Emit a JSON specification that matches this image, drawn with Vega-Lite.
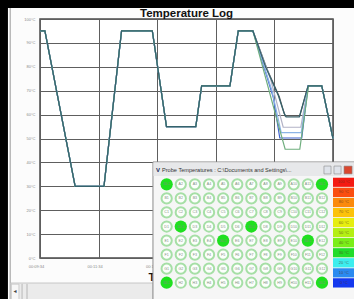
{
  "$schema": "https://vega.github.io/schema/vega-lite/v6.json",
  "width": 293,
  "height": 239,
  "autosize": {"type": "none"},
  "padding": {"left": 40, "top": 19, "right": 21, "bottom": 41},
  "background": "#fcfcfc",
  "title": {"text": "Temperature Log", "frame": "group", "anchor": "middle", "font": "Liberation Sans", "fontSize": 11.5, "fontWeight": "bold", "color": "#111111", "offset": 0, "baseline": "alphabetic", "dy": 28, "zindex": 2},
  "config": {
    "view": {"stroke": "#4a4a4a", "strokeWidth": 1.5, "fill": "white"},
    "axis": {"domain": false, "ticks": false, "labelFont": "Liberation Sans", "labelFontSize": 4, "labelColor": "#8a8a8a", "gridColor": "#5e5e5e", "gridWidth": 1, "gridOpacity": 1}
  },
  "datasets": {
    "temps": [
      {"probe": "A1", "t": 0, "v": 95}, {"probe": "A1", "t": 10, "v": 95}, {"probe": "A1", "t": 72, "v": 30}, {"probe": "A1", "t": 131, "v": 30}, {"probe": "A1", "t": 167, "v": 95}, {"probe": "A1", "t": 230, "v": 95}, {"probe": "A1", "t": 259, "v": 55}, {"probe": "A1", "t": 319, "v": 55}, {"probe": "A1", "t": 331, "v": 72}, {"probe": "A1", "t": 389, "v": 72}, {"probe": "A1", "t": 406, "v": 95}, {"probe": "A1", "t": 436, "v": 95},
      {"probe": "A1", "t": 465, "v": 79}, {"probe": "A1", "t": 490, "v": 67.5}, {"probe": "A1", "t": 498, "v": 62}, {"probe": "A1", "t": 502, "v": 59.5}, {"probe": "A1", "t": 532, "v": 59.5}, {"probe": "A1", "t": 549, "v": 72}, {"probe": "A1", "t": 577, "v": 72}, {"probe": "A1", "t": 600, "v": 50},
      {"probe": "A12", "t": 0, "v": 95}, {"probe": "A12", "t": 10, "v": 95}, {"probe": "A12", "t": 72, "v": 30}, {"probe": "A12", "t": 131, "v": 30}, {"probe": "A12", "t": 167, "v": 95}, {"probe": "A12", "t": 230, "v": 95}, {"probe": "A12", "t": 259, "v": 55}, {"probe": "A12", "t": 319, "v": 55}, {"probe": "A12", "t": 331, "v": 72}, {"probe": "A12", "t": 389, "v": 72}, {"probe": "A12", "t": 406, "v": 95}, {"probe": "A12", "t": 436, "v": 95},
      {"probe": "A12", "t": 472, "v": 75}, {"probe": "A12", "t": 498, "v": 54.7}, {"probe": "A12", "t": 534, "v": 54.7}, {"probe": "A12", "t": 549, "v": 72}, {"probe": "A12", "t": 577, "v": 72}, {"probe": "A12", "t": 600, "v": 50},
      {"probe": "D2", "t": 0, "v": 95}, {"probe": "D2", "t": 10, "v": 95}, {"probe": "D2", "t": 72, "v": 30}, {"probe": "D2", "t": 131, "v": 30}, {"probe": "D2", "t": 167, "v": 95}, {"probe": "D2", "t": 230, "v": 95}, {"probe": "D2", "t": 259, "v": 55}, {"probe": "D2", "t": 319, "v": 55}, {"probe": "D2", "t": 331, "v": 72}, {"probe": "D2", "t": 389, "v": 72}, {"probe": "D2", "t": 406, "v": 95}, {"probe": "D2", "t": 436, "v": 95},
      {"probe": "D2", "t": 478, "v": 67}, {"probe": "D2", "t": 491, "v": 50.2}, {"probe": "D2", "t": 536, "v": 50.2}, {"probe": "D2", "t": 549, "v": 72}, {"probe": "D2", "t": 577, "v": 72}, {"probe": "D2", "t": 600, "v": 50},
      {"probe": "D7", "t": 0, "v": 95}, {"probe": "D7", "t": 10, "v": 95}, {"probe": "D7", "t": 72, "v": 30}, {"probe": "D7", "t": 131, "v": 30}, {"probe": "D7", "t": 167, "v": 95}, {"probe": "D7", "t": 230, "v": 95}, {"probe": "D7", "t": 259, "v": 55}, {"probe": "D7", "t": 319, "v": 55}, {"probe": "D7", "t": 331, "v": 72}, {"probe": "D7", "t": 389, "v": 72}, {"probe": "D7", "t": 406, "v": 95}, {"probe": "D7", "t": 436, "v": 95},
      {"probe": "D7", "t": 475, "v": 70}, {"probe": "D7", "t": 494, "v": 52.5}, {"probe": "D7", "t": 535, "v": 52.5}, {"probe": "D7", "t": 549, "v": 72}, {"probe": "D7", "t": 577, "v": 72}, {"probe": "D7", "t": 600, "v": 50},
      {"probe": "E5", "t": 0, "v": 95}, {"probe": "E5", "t": 10, "v": 95}, {"probe": "E5", "t": 72, "v": 30}, {"probe": "E5", "t": 131, "v": 30}, {"probe": "E5", "t": 167, "v": 95}, {"probe": "E5", "t": 230, "v": 95}, {"probe": "E5", "t": 259, "v": 55}, {"probe": "E5", "t": 319, "v": 55}, {"probe": "E5", "t": 331, "v": 72}, {"probe": "E5", "t": 389, "v": 72}, {"probe": "E5", "t": 406, "v": 95}, {"probe": "E5", "t": 436, "v": 95},
      {"probe": "E5", "t": 485, "v": 58}, {"probe": "E5", "t": 502, "v": 45.5}, {"probe": "E5", "t": 532, "v": 45.5}, {"probe": "E5", "t": 550, "v": 72}, {"probe": "E5", "t": 577, "v": 72}, {"probe": "E5", "t": 600, "v": 50},
      {"probe": "E11", "t": 0, "v": 95}, {"probe": "E11", "t": 10, "v": 95}, {"probe": "E11", "t": 72, "v": 30}, {"probe": "E11", "t": 131, "v": 30}, {"probe": "E11", "t": 167, "v": 95}, {"probe": "E11", "t": 230, "v": 95}, {"probe": "E11", "t": 259, "v": 55}, {"probe": "E11", "t": 319, "v": 55}, {"probe": "E11", "t": 331, "v": 72}, {"probe": "E11", "t": 389, "v": 72}, {"probe": "E11", "t": 406, "v": 95}, {"probe": "E11", "t": 436, "v": 95},
      {"probe": "E11", "t": 462, "v": 80}, {"probe": "E11", "t": 488, "v": 68}, {"probe": "E11", "t": 500, "v": 60.5}, {"probe": "E11", "t": 504, "v": 59}, {"probe": "E11", "t": 531, "v": 59}, {"probe": "E11", "t": 549, "v": 72}, {"probe": "E11", "t": 577, "v": 72}, {"probe": "E11", "t": 600, "v": 50}
    ],
    "wells": [
      {"r": 1, "c": 1, "lab": "30.1", "hot": true}, {"r": 1, "c": 2, "lab": "A2", "hot": false}, {"r": 1, "c": 3, "lab": "A3", "hot": false}, {"r": 1, "c": 4, "lab": "A4", "hot": false}, {"r": 1, "c": 5, "lab": "A5", "hot": false}, {"r": 1, "c": 6, "lab": "A6", "hot": false}, {"r": 1, "c": 7, "lab": "A7", "hot": false}, {"r": 1, "c": 8, "lab": "A8", "hot": false}, {"r": 1, "c": 9, "lab": "A9", "hot": false}, {"r": 1, "c": 10, "lab": "A10", "hot": false}, {"r": 1, "c": 11, "lab": "A11", "hot": false}, {"r": 1, "c": 12, "lab": "30.1", "hot": true},
      {"r": 2, "c": 1, "lab": "B1", "hot": false}, {"r": 2, "c": 2, "lab": "B2", "hot": false}, {"r": 2, "c": 3, "lab": "B3", "hot": false}, {"r": 2, "c": 4, "lab": "B4", "hot": false}, {"r": 2, "c": 5, "lab": "B5", "hot": false}, {"r": 2, "c": 6, "lab": "B6", "hot": false}, {"r": 2, "c": 7, "lab": "B7", "hot": false}, {"r": 2, "c": 8, "lab": "B8", "hot": false}, {"r": 2, "c": 9, "lab": "B9", "hot": false}, {"r": 2, "c": 10, "lab": "B10", "hot": false}, {"r": 2, "c": 11, "lab": "B11", "hot": false}, {"r": 2, "c": 12, "lab": "B12", "hot": false},
      {"r": 3, "c": 1, "lab": "C1", "hot": false}, {"r": 3, "c": 2, "lab": "C2", "hot": false}, {"r": 3, "c": 3, "lab": "C3", "hot": false}, {"r": 3, "c": 4, "lab": "C4", "hot": false}, {"r": 3, "c": 5, "lab": "C5", "hot": false}, {"r": 3, "c": 6, "lab": "C6", "hot": false}, {"r": 3, "c": 7, "lab": "C7", "hot": false}, {"r": 3, "c": 8, "lab": "C8", "hot": false}, {"r": 3, "c": 9, "lab": "C9", "hot": false}, {"r": 3, "c": 10, "lab": "C10", "hot": false}, {"r": 3, "c": 11, "lab": "C11", "hot": false}, {"r": 3, "c": 12, "lab": "C12", "hot": false},
      {"r": 4, "c": 1, "lab": "D1", "hot": false}, {"r": 4, "c": 2, "lab": "30.3", "hot": true}, {"r": 4, "c": 3, "lab": "D3", "hot": false}, {"r": 4, "c": 4, "lab": "D4", "hot": false}, {"r": 4, "c": 5, "lab": "D5", "hot": false}, {"r": 4, "c": 6, "lab": "D6", "hot": false}, {"r": 4, "c": 7, "lab": "30.3", "hot": true}, {"r": 4, "c": 8, "lab": "D8", "hot": false}, {"r": 4, "c": 9, "lab": "D9", "hot": false}, {"r": 4, "c": 10, "lab": "D10", "hot": false}, {"r": 4, "c": 11, "lab": "D11", "hot": false}, {"r": 4, "c": 12, "lab": "D12", "hot": false},
      {"r": 5, "c": 1, "lab": "E1", "hot": false}, {"r": 5, "c": 2, "lab": "E2", "hot": false}, {"r": 5, "c": 3, "lab": "E3", "hot": false}, {"r": 5, "c": 4, "lab": "E4", "hot": false}, {"r": 5, "c": 5, "lab": "30.2", "hot": true}, {"r": 5, "c": 6, "lab": "E6", "hot": false}, {"r": 5, "c": 7, "lab": "E7", "hot": false}, {"r": 5, "c": 8, "lab": "E8", "hot": false}, {"r": 5, "c": 9, "lab": "E9", "hot": false}, {"r": 5, "c": 10, "lab": "E10", "hot": false}, {"r": 5, "c": 11, "lab": "30.5", "hot": true}, {"r": 5, "c": 12, "lab": "E12", "hot": false},
      {"r": 6, "c": 1, "lab": "F1", "hot": false}, {"r": 6, "c": 2, "lab": "F2", "hot": false}, {"r": 6, "c": 3, "lab": "F3", "hot": false}, {"r": 6, "c": 4, "lab": "F4", "hot": false}, {"r": 6, "c": 5, "lab": "F5", "hot": false}, {"r": 6, "c": 6, "lab": "F6", "hot": false}, {"r": 6, "c": 7, "lab": "F7", "hot": false}, {"r": 6, "c": 8, "lab": "F8", "hot": false}, {"r": 6, "c": 9, "lab": "F9", "hot": false}, {"r": 6, "c": 10, "lab": "F10", "hot": false}, {"r": 6, "c": 11, "lab": "F11", "hot": false}, {"r": 6, "c": 12, "lab": "F12", "hot": false},
      {"r": 7, "c": 1, "lab": "G1", "hot": false}, {"r": 7, "c": 2, "lab": "G2", "hot": false}, {"r": 7, "c": 3, "lab": "G3", "hot": false}, {"r": 7, "c": 4, "lab": "G4", "hot": false}, {"r": 7, "c": 5, "lab": "G5", "hot": false}, {"r": 7, "c": 6, "lab": "G6", "hot": false}, {"r": 7, "c": 7, "lab": "G7", "hot": false}, {"r": 7, "c": 8, "lab": "G8", "hot": false}, {"r": 7, "c": 9, "lab": "G9", "hot": false}, {"r": 7, "c": 10, "lab": "G10", "hot": false}, {"r": 7, "c": 11, "lab": "G11", "hot": false}, {"r": 7, "c": 12, "lab": "G12", "hot": false},
      {"r": 8, "c": 1, "lab": "30.1", "hot": true}, {"r": 8, "c": 2, "lab": "H2", "hot": false}, {"r": 8, "c": 3, "lab": "H3", "hot": false}, {"r": 8, "c": 4, "lab": "H4", "hot": false}, {"r": 8, "c": 5, "lab": "H5", "hot": false}, {"r": 8, "c": 6, "lab": "H6", "hot": false}, {"r": 8, "c": 7, "lab": "H7", "hot": false}, {"r": 8, "c": 8, "lab": "H8", "hot": false}, {"r": 8, "c": 9, "lab": "H9", "hot": false}, {"r": 8, "c": 10, "lab": "H10", "hot": false}, {"r": 8, "c": 11, "lab": "H11", "hot": false}, {"r": 8, "c": 12, "lab": "30.2", "hot": true}
    ],
    "scale": [
      {"lab": "100 °C", "c1": 12.78, "c2": 14.4, "r1": 0.53, "r2": 1.18, "rm": 0.857},
      {"lab": "90 °C", "c1": 12.78, "c2": 14.4, "r1": 1.24, "r2": 1.90, "rm": 1.572},
      {"lab": "80 °C", "c1": 12.78, "c2": 14.4, "r1": 1.96, "r2": 2.62, "rm": 2.288},
      {"lab": "70 °C", "c1": 12.78, "c2": 14.4, "r1": 2.68, "r2": 3.33, "rm": 3.003},
      {"lab": "60 °C", "c1": 12.78, "c2": 14.4, "r1": 3.39, "r2": 4.05, "rm": 3.719},
      {"lab": "50 °C", "c1": 12.78, "c2": 14.4, "r1": 4.11, "r2": 4.76, "rm": 4.434},
      {"lab": "40 °C", "c1": 12.78, "c2": 14.4, "r1": 4.82, "r2": 5.48, "rm": 5.150},
      {"lab": "30 °C", "c1": 12.78, "c2": 14.4, "r1": 5.54, "r2": 6.19, "rm": 5.865},
      {"lab": "20 °C", "c1": 12.78, "c2": 14.4, "r1": 6.25, "r2": 6.91, "rm": 6.581},
      {"lab": "10 °C", "c1": 12.78, "c2": 14.4, "r1": 6.97, "r2": 7.62, "rm": 7.296},
      {"lab": "0 °C", "c1": 12.78, "c2": 14.4, "r1": 7.68, "r2": 8.34, "rm": 8.012}
    ]
  },
  "layer": [
    {
      "data": {"name": "temps"},
      "mark": {"type": "line", "strokeWidth": 1.2},
      "encoding": {
        "x": {"field": "t", "type": "quantitative", "scale": {"domain": [0, 600], "nice": false, "zero": false},
          "axis": {"values": [0, 120, 240, 360, 480, 600], "labelExpr": "utcFormat((datum.value + 574) * 1000, '%H:%M:%S')", "labelFlush": false, "labelOffset": -4, "labelPadding": 6, "grid": true,
            "title": "Time", "titleX": 108, "titleY": 22, "titleAlign": "left", "titleBaseline": "alphabetic", "titleFont": "Liberation Sans", "titleFontSize": 11, "titleFontWeight": "bold", "titleColor": "#111111"}},
        "y": {"field": "v", "type": "quantitative", "scale": {"domain": [0, 100], "nice": false, "zero": false},
          "axis": {"values": [0, 10, 20, 30, 40, 50, 60, 70, 80, 90, 100], "labelExpr": "datum.value + '°C'", "labelPadding": 5, "grid": true, "title": null}},
        "color": {"field": "probe", "type": "nominal", "legend": null,
          "scale": {"domain": ["A1", "A12", "D2", "D7", "E5", "E11"], "range": ["#555555", "#b2b2c6", "#3f63cf", "#8cb4e6", "#6fae7e", "#35626c"]}}
      }
    },
    {
      "layer": [
        {
          "data": {"values": [{"c1": -10.9, "c2": -10.24, "r1": -12.11, "r2": 9.4}]},
          "mark": {"type": "rect", "color": "#000000"},
          "encoding": {
            "x": {"field": "c1", "type": "quantitative", "scale": {"domain": [-7.97, 12.78], "nice": false, "zero": false}, "axis": null},
            "x2": {"field": "c2"},
            "y": {"field": "r1", "type": "quantitative", "scale": {"domain": [-10.76, 6.24], "nice": false, "zero": false, "reverse": true}, "axis": null},
            "y2": {"field": "r2"}
          }
        },
        {
          "data": {"values": [{"c1": -10.9, "c2": 14.5, "r1": -12.11, "r2": -11.54}]},
          "mark": {"type": "rect", "color": "#000000"},
          "encoding": {
            "x": {"field": "c1", "type": "quantitative", "scale": {"domain": [-7.97, 12.78], "nice": false, "zero": false}, "axis": null},
            "x2": {"field": "c2"},
            "y": {"field": "r1", "type": "quantitative", "scale": {"domain": [-10.76, 6.24], "nice": false, "zero": false, "reverse": true}, "axis": null},
            "y2": {"field": "r2"}
          }
        },
        {
          "data": {"values": [{"c1": -10.13, "c2": -10.03, "r1": -11.54, "r2": 9.4}]},
          "mark": {"type": "rect", "color": "#b4b4b4"},
          "encoding": {
            "x": {"field": "c1", "type": "quantitative", "scale": {"domain": [-7.97, 12.78], "nice": false, "zero": false}, "axis": null},
            "x2": {"field": "c2"},
            "y": {"field": "r1", "type": "quantitative", "scale": {"domain": [-10.76, 6.24], "nice": false, "zero": false, "reverse": true}, "axis": null},
            "y2": {"field": "r2"}
          }
        },
        {
          "data": {"values": [{"c1": -10.03, "c2": 0.03, "r1": 8.02, "r2": 9.4}]},
          "mark": {"type": "rect", "color": "#ebebeb", "stroke": "#c8c8c8", "strokeWidth": 1},
          "encoding": {
            "x": {"field": "c1", "type": "quantitative", "scale": {"domain": [-7.97, 12.78], "nice": false, "zero": false}, "axis": null},
            "x2": {"field": "c2"},
            "y": {"field": "r1", "type": "quantitative", "scale": {"domain": [-10.76, 6.24], "nice": false, "zero": false, "reverse": true}, "axis": null},
            "y2": {"field": "r2"}
          }
        },
        {
          "data": {"values": [{"c1": -10.0, "c2": -9.46, "r1": 8.1, "r2": 9.4}, {"c1": -9.26, "c2": -9.22, "r1": 8.1, "r2": 9.4}, {"c1": -8.91, "c2": -8.87, "r1": 8.1, "r2": 9.4}]},
          "mark": {"type": "rect", "color": "#f7f7f7", "stroke": "#c4c4c4", "strokeWidth": 0.8},
          "encoding": {
            "x": {"field": "c1", "type": "quantitative", "scale": {"domain": [-7.97, 12.78], "nice": false, "zero": false}, "axis": null},
            "x2": {"field": "c2"},
            "y": {"field": "r1", "type": "quantitative", "scale": {"domain": [-10.76, 6.24], "nice": false, "zero": false, "reverse": true}, "axis": null},
            "y2": {"field": "r2"}
          }
        },
        {
          "data": {"values": [{"c": -9.74, "r": 8.62, "s": "◂"}]},
          "mark": {"type": "text", "font": "DejaVu Sans", "fontSize": 6, "color": "#444444"},
          "encoding": {
            "x": {"field": "c", "type": "quantitative", "scale": {"domain": [-7.97, 12.78], "nice": false, "zero": false}, "axis": null},
            "y": {"field": "r", "type": "quantitative", "scale": {"domain": [-10.76, 6.24], "nice": false, "zero": false, "reverse": true}, "axis": null},
            "text": {"field": "s"}
          }
        },
        {
          "data": {"values": [{"c1": 0.03, "c2": 14.5, "r1": -0.59, "r2": 9.4}]},
          "mark": {"type": "rect", "color": "#f6f6f6", "stroke": "#8c8c8c", "strokeWidth": 1},
          "encoding": {
            "x": {"field": "c1", "type": "quantitative", "scale": {"domain": [-7.97, 12.78], "nice": false, "zero": false}, "axis": null},
            "x2": {"field": "c2"},
            "y": {"field": "r1", "type": "quantitative", "scale": {"domain": [-10.76, 6.24], "nice": false, "zero": false, "reverse": true}, "axis": null},
            "y2": {"field": "r2"}
          }
        },
        {
          "data": {"values": [{"c1": 0.07, "c2": 14.5, "r1": -0.55, "r2": 0.4}]},
          "mark": {"type": "rect", "color": "#e7e8ea"},
          "encoding": {
            "x": {"field": "c1", "type": "quantitative", "scale": {"domain": [-7.97, 12.78], "nice": false, "zero": false}, "axis": null},
            "x2": {"field": "c2"},
            "y": {"field": "r1", "type": "quantitative", "scale": {"domain": [-10.76, 6.24], "nice": false, "zero": false, "reverse": true}, "axis": null},
            "y2": {"field": "r2"}
          }
        },
        {
          "data": {"values": [{"c": 0.25, "r": -0.04, "s": "V"}]},
          "mark": {"type": "text", "font": "Liberation Sans", "fontSize": 6, "fontWeight": "bold", "align": "left", "baseline": "middle", "color": "#1a2a5a"},
          "encoding": {
            "x": {"field": "c", "type": "quantitative", "scale": {"domain": [-7.97, 12.78], "nice": false, "zero": false}, "axis": null},
            "y": {"field": "r", "type": "quantitative", "scale": {"domain": [-10.76, 6.24], "nice": false, "zero": false, "reverse": true}, "axis": null},
            "text": {"field": "s"}
          }
        },
        {
          "data": {"values": [{"c": 0.67, "r": -0.05, "s": "Probe Temperatures : C:\\Documents and Settings\\..."}]},
          "mark": {"type": "text", "font": "Liberation Sans", "fontSize": 5.6, "align": "left", "baseline": "middle", "color": "#333333"},
          "encoding": {
            "x": {"field": "c", "type": "quantitative", "scale": {"domain": [-7.97, 12.78], "nice": false, "zero": false}, "axis": null},
            "y": {"field": "r", "type": "quantitative", "scale": {"domain": [-10.76, 6.24], "nice": false, "zero": false, "reverse": true}, "axis": null},
            "text": {"field": "s"}
          }
        },
        {
          "data": {"values": [{"b": "min", "c1": 12.14, "c2": 12.64, "r1": -0.3, "r2": 0.26}, {"b": "max", "c1": 12.85, "c2": 13.35, "r1": -0.3, "r2": 0.26}, {"b": "close", "c1": 13.56, "c2": 14.13, "r1": -0.3, "r2": 0.26}]},
          "mark": {"type": "rect", "stroke": "#8a8a8a", "strokeWidth": 0.6},
          "encoding": {
            "x": {"field": "c1", "type": "quantitative", "scale": {"domain": [-7.97, 12.78], "nice": false, "zero": false}, "axis": null},
            "x2": {"field": "c2"},
            "y": {"field": "r1", "type": "quantitative", "scale": {"domain": [-10.76, 6.24], "nice": false, "zero": false, "reverse": true}, "axis": null},
            "y2": {"field": "r2"},
            "fill": {"field": "b", "type": "nominal", "legend": null, "scale": {"domain": ["min", "max", "close"], "range": ["#dfe3ea", "#dfe3ea", "#d9472f"]}}
          }
        },
        {
          "data": {"name": "scale"},
          "mark": {"type": "rect"},
          "encoding": {
            "x": {"field": "c1", "type": "quantitative", "scale": {"domain": [-7.97, 12.78], "nice": false, "zero": false}, "axis": null},
            "x2": {"field": "c2"},
            "y": {"field": "r1", "type": "quantitative", "scale": {"domain": [-10.76, 6.24], "nice": false, "zero": false, "reverse": true}, "axis": null},
            "y2": {"field": "r2"},
            "color": {"field": "lab", "type": "nominal", "legend": null, "sort": null,
              "scale": {"domain": ["100 °C", "90 °C", "80 °C", "70 °C", "60 °C", "50 °C", "40 °C", "30 °C", "20 °C", "10 °C", "0 °C"],
                "range": ["#f41a12", "#fa4e10", "#fb8a0c", "#fcc20a", "#e6ee10", "#b4ef14", "#7aee18", "#22dc2a", "#3ceeee", "#2a8af0", "#1438ee"]}}
          }
        },
        {
          "data": {"name": "scale"},
          "mark": {"type": "text", "font": "Liberation Sans", "fontSize": 4, "color": "#553322", "opacity": 0.7, "baseline": "middle"},
          "encoding": {
            "x": {"datum": 13.55, "type": "quantitative", "scale": {"domain": [-7.97, 12.78], "nice": false, "zero": false}, "axis": null},
            "y": {"field": "rm", "type": "quantitative", "scale": {"domain": [-10.76, 6.24], "nice": false, "zero": false, "reverse": true}, "axis": null},
            "text": {"field": "lab"}
          }
        },
        {
          "data": {"name": "wells"},
          "transform": [{"filter": "!datum.hot"}],
          "mark": {"type": "point", "shape": "circle", "filled": false, "fill": "#fcfffc", "stroke": "#a6dfa6", "strokeWidth": 2, "size": 105, "opacity": 1},
          "encoding": {
            "x": {"field": "c", "type": "quantitative", "scale": {"domain": [-7.97, 12.78], "nice": false, "zero": false}, "axis": null},
            "y": {"field": "r", "type": "quantitative", "scale": {"domain": [-10.76, 6.24], "nice": false, "zero": false, "reverse": true}, "axis": null}
          }
        },
        {
          "data": {"name": "wells"},
          "transform": [{"filter": "datum.hot"}],
          "mark": {"type": "point", "shape": "circle", "filled": true, "color": "#1fe01f", "size": 150, "opacity": 1},
          "encoding": {
            "x": {"field": "c", "type": "quantitative", "scale": {"domain": [-7.97, 12.78], "nice": false, "zero": false}, "axis": null},
            "y": {"field": "r", "type": "quantitative", "scale": {"domain": [-10.76, 6.24], "nice": false, "zero": false, "reverse": true}, "axis": null}
          }
        },
        {
          "data": {"name": "wells"},
          "mark": {"type": "text", "font": "Liberation Sans", "fontSize": 3.6, "color": "#7f8f7f", "baseline": "middle"},
          "encoding": {
            "x": {"field": "c", "type": "quantitative", "scale": {"domain": [-7.97, 12.78], "nice": false, "zero": false}, "axis": null},
            "y": {"field": "r", "type": "quantitative", "scale": {"domain": [-10.76, 6.24], "nice": false, "zero": false, "reverse": true}, "axis": null},
            "text": {"field": "lab"}
          }
        }
      ]
    }
  ],
  "resolve": {"scale": {"x": "independent", "y": "independent", "color": "independent"}}
}
